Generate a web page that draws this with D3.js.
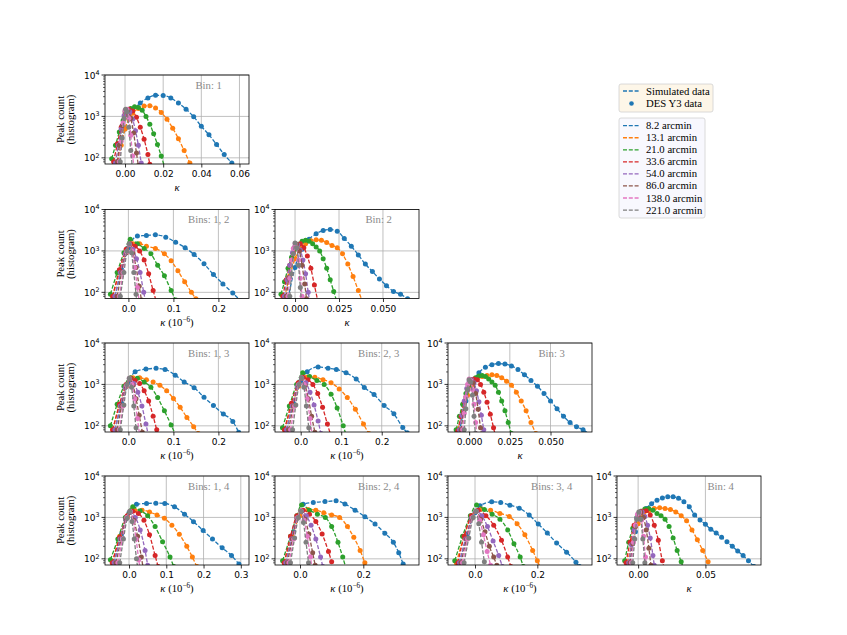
<!DOCTYPE html>
<html>
<head>
<meta charset="utf-8">
<script src="https://cdn.jsdelivr.net/npm/d3@7"></script>
<style>
  body { margin: 0; background: #fff; }
</style>
</head>
<body>
<div id="chart"></div>
<script>
// smoothing scales (legend) and their colours
const scales = ["8.2", "13.1", "21.0", "33.6", "54.0", "86.0", "138.0", "221.0"];
const colors = ["#1f77b4", "#ff7f0e", "#2ca02c", "#d62728", "#9467bd", "#8c564b", "#e377c2", "#7f7f7f"];
const yTicks = [100, 1000, 10000];
const yExp = ["2", "3", "4"];
const yMinor = [80, 90, 200, 300, 400, 500, 600, 700, 800, 900, 2000, 3000, 4000, 5000, 6000, 7000, 8000, 9000];

// peak counts per panel: one list of [kappa, count] per smoothing scale
const bin1 = [
  [[-0.004,80],[0,500],[0.004,1300],[0.008,2100],[0.012,2800],[0.016,3250],[0.020,3200],[0.024,2800],[0.028,2100],[0.032,1500],[0.036,980],[0.040,580],[0.044,360],[0.048,210],[0.052,120],[0.056,75],[0.060,45]],
  [[-0.004,80],[-0.002,200],[0,500],[0.002,850],[0.004,1200],[0.007,1550],[0.010,1780],[0.013,1800],[0.016,1600],[0.019,1250],[0.022,850],[0.025,520],[0.028,290],[0.031,150],[0.034,75],[0.036,50]],
  [[-0.007,95],[-0.005,200],[-0.003,420],[-0.001,800],[0.001,1250],[0.003,1550],[0.005,1700],[0.007,1650],[0.009,1400],[0.011,1000],[0.013,650],[0.015,380],[0.017,210],[0.019,110],[0.021,55]],
  [[-0.006,80],[-0.004,220],[-0.002,550],[0,1100],[0.002,1500],[0.004,1350],[0.006,950],[0.008,550],[0.010,280],[0.012,120],[0.013,70]],
  [[-0.005,75],[-0.0035,200],[-0.002,500],[-0.0005,1050],[0.001,1450],[0.0025,1300],[0.004,850],[0.0055,450],[0.007,200],[0.0085,75]],
  [[-0.004,80],[-0.003,200],[-0.0015,600],[0,1300],[0.0015,1400],[0.003,900],[0.0045,400],[0.006,130],[0.007,65]],
  [[-0.003,80],[-0.002,250],[-0.001,700],[0,1400],[0.001,1500],[0.002,900],[0.003,350],[0.004,110],[0.0047,60]],
  [[-0.0025,80],[-0.0015,300],[-0.0005,900],[0.0003,1500],[0.001,1300],[0.002,550],[0.003,150],[0.0038,60]]
];
const bins12 = [
  [[-0.03,80],[-0.015,350],[0,1200],[0.02,2300],[0.04,2350],[0.06,2450],[0.083,2150],[0.105,1620],[0.126,1200],[0.146,820],[0.168,490],[0.189,270],[0.21,160],[0.232,96],[0.25,62]],
  [[-0.035,80],[-0.02,300],[-0.005,900],[0.01,1500],[0.025,1500],[0.04,1300],[0.06,1150],[0.08,850],[0.095,580],[0.11,330],[0.125,180],[0.14,100],[0.15,70]],
  [[-0.04,90],[-0.025,300],[-0.01,900],[0.004,1900],[0.02,1500],[0.035,1150],[0.05,850],[0.065,450],[0.08,250],[0.095,110],[0.105,65]],
  [[-0.035,80],[-0.02,350],[-0.005,1100],[0.005,1500],[0.015,1300],[0.025,1000],[0.035,600],[0.045,280],[0.055,110],[0.062,60]],
  [[-0.03,80],[-0.018,300],[-0.007,850],[0.002,1400],[0.01,1100],[0.018,650],[0.026,300],[0.034,100],[0.039,55]],
  [[-0.025,80],[-0.015,300],[-0.005,900],[0.003,1400],[0.01,900],[0.017,400],[0.024,140],[0.029,65]],
  [[-0.02,80],[-0.012,300],[-0.004,950],[0.002,1450],[0.008,1000],[0.014,400],[0.02,130],[0.024,60]],
  [[-0.018,80],[-0.01,300],[-0.003,1000],[0.002,1500],[0.007,900],[0.012,300],[0.017,90],[0.019,55]]
];
const bin2 = [
  [[-0.004,70],[0,400],[0.004,1100],[0.008,1900],[0.012,2600],[0.016,3100],[0.020,3300],[0.024,3000],[0.028,2000],[0.032,1300],[0.036,800],[0.040,480],[0.044,320],[0.048,210],[0.052,145],[0.056,105],[0.060,90],[0.064,70]],
  [[-0.006,75],[-0.003,250],[0,650],[0.003,1150],[0.006,1500],[0.009,1750],[0.012,1850],[0.015,1800],[0.018,1600],[0.021,1350],[0.024,1200],[0.027,850],[0.030,480],[0.033,240],[0.036,110],[0.039,50]],
  [[-0.008,90],[-0.006,180],[-0.004,380],[-0.002,700],[0,1100],[0.002,1450],[0.004,1700],[0.006,1800],[0.008,1700],[0.010,1500],[0.012,1250],[0.014,1000],[0.016,650],[0.018,380],[0.020,200],[0.022,105],[0.024,55]],
  [[-0.007,80],[-0.005,200],[-0.003,450],[-0.001,900],[0.001,1350],[0.003,1500],[0.005,1200],[0.007,750],[0.009,380],[0.011,150],[0.013,60]],
  [[-0.006,80],[-0.0045,200],[-0.003,450],[-0.0015,900],[0,1300],[0.0015,1400],[0.003,1050],[0.0045,600],[0.006,280],[0.0075,100],[0.0085,55]],
  [[-0.005,80],[-0.0035,220],[-0.002,600],[-0.0005,1200],[0.001,1450],[0.0025,1000],[0.004,450],[0.0055,160],[0.0065,70]],
  [[-0.004,80],[-0.003,220],[-0.002,600],[-0.001,1150],[0,1500],[0.001,1200],[0.002,600],[0.003,220],[0.004,80]],
  [[-0.003,80],[-0.002,280],[-0.001,850],[0,1550],[0.001,1200],[0.002,450],[0.003,130],[0.0036,60]]
];
const bins13 = [
  [[-0.03,80],[-0.015,350],[0,1100],[0.015,2030],[0.039,2350],[0.0615,2440],[0.0815,2300],[0.104,1675],[0.124,1150],[0.146,835],[0.168,490],[0.189,308],[0.211,193],[0.232,128],[0.245,70]],
  [[-0.035,80],[-0.02,300],[-0.005,900],[0.01,1450],[0.025,1450],[0.04,1300],[0.055,1150],[0.07,950],[0.085,700],[0.1,460],[0.115,280],[0.13,160],[0.145,95],[0.155,65]],
  [[-0.04,100],[-0.025,330],[-0.01,900],[0.005,1450],[0.02,1400],[0.035,1150],[0.05,850],[0.065,480],[0.08,230],[0.095,105],[0.105,60]],
  [[-0.035,80],[-0.02,330],[-0.005,1000],[0.005,1400],[0.015,1250],[0.025,1050],[0.035,700],[0.045,400],[0.055,170],[0.063,80]],
  [[-0.03,80],[-0.018,300],[-0.007,850],[0.003,1300],[0.012,1050],[0.021,650],[0.03,300],[0.039,110],[0.045,55]],
  [[-0.025,80],[-0.015,300],[-0.005,900],[0.003,1350],[0.01,950],[0.017,450],[0.024,180],[0.031,70]],
  [[-0.02,80],[-0.012,300],[-0.004,950],[0.002,1400],[0.008,1000],[0.014,450],[0.02,150],[0.025,60]],
  [[-0.018,80],[-0.01,320],[-0.003,1000],[0.002,1400],[0.007,850],[0.012,300],[0.017,90],[0.02,55]]
];
const bins23 = [
  [[-0.035,80],[-0.018,350],[0,1200],[0.016,2030],[0.043,2650],[0.0675,2450],[0.088,2300],[0.112,1900],[0.137,1350],[0.157,840],[0.181,570],[0.206,310],[0.23,195],[0.252,91],[0.263,68]],
  [[-0.04,80],[-0.022,300],[-0.005,900],[0.015,1500],[0.035,1500],[0.055,1300],[0.075,1100],[0.095,780],[0.115,480],[0.135,250],[0.155,110],[0.168,65]],
  [[-0.045,90],[-0.028,300],[-0.01,1000],[0.005,1900],[0.022,1550],[0.04,1250],[0.058,1000],[0.075,580],[0.09,270],[0.105,100],[0.112,60]],
  [[-0.04,80],[-0.023,350],[-0.006,1100],[0.006,1500],[0.018,1300],[0.03,1000],[0.042,600],[0.054,280],[0.066,110],[0.074,60]],
  [[-0.035,80],[-0.021,300],[-0.008,900],[0.003,1400],[0.013,1100],[0.023,650],[0.033,320],[0.043,130],[0.05,65]],
  [[-0.03,80],[-0.018,300],[-0.006,950],[0.003,1400],[0.011,950],[0.019,450],[0.027,170],[0.035,70]],
  [[-0.025,80],[-0.015,300],[-0.005,1000],[0.002,1450],[0.009,1000],[0.016,450],[0.023,150],[0.028,60]],
  [[-0.02,80],[-0.012,320],[-0.004,1000],[0.002,1450],[0.008,850],[0.014,300],[0.02,90],[0.023,55]]
];
const bin3 = [
  [[-0.006,70],[-0.002,400],[0.002,1100],[0.006,1900],[0.010,2600],[0.014,3000],[0.018,3200],[0.022,3100],[0.026,2800],[0.030,2300],[0.034,1700],[0.038,1250],[0.042,900],[0.046,600],[0.050,400],[0.054,260],[0.058,170],[0.062,120],[0.066,95],[0.070,80],[0.074,62]],
  [[-0.007,80],[-0.004,220],[-0.001,550],[0.002,1000],[0.005,1350],[0.008,1550],[0.011,1650],[0.014,1700],[0.017,1650],[0.020,1450],[0.023,1200],[0.026,950],[0.029,650],[0.032,400],[0.035,230],[0.038,120],[0.041,65]],
  [[-0.008,80],[-0.006,170],[-0.004,330],[-0.002,600],[0,950],[0.002,1250],[0.004,1450],[0.006,1600],[0.008,1650],[0.010,1550],[0.012,1350],[0.014,1150],[0.016,950],[0.018,650],[0.020,400],[0.022,230],[0.024,120],[0.026,65]],
  [[-0.007,75],[-0.005,170],[-0.003,380],[-0.001,750],[0.001,1100],[0.003,1350],[0.005,1300],[0.007,1000],[0.009,650],[0.011,370],[0.013,190],[0.015,90],[0.016,60]],
  [[-0.006,80],[-0.0045,180],[-0.003,400],[-0.0015,800],[0,1200],[0.0015,1300],[0.003,1100],[0.0045,700],[0.006,380],[0.0075,180],[0.009,80]],
  [[-0.005,80],[-0.0035,200],[-0.002,500],[-0.0005,1000],[0.001,1300],[0.0025,1100],[0.004,600],[0.0055,250],[0.007,90],[0.0078,55]],
  [[-0.004,80],[-0.003,200],[-0.002,500],[-0.001,1000],[0,1350],[0.001,1250],[0.002,750],[0.003,330],[0.004,120],[0.0048,60]],
  [[-0.003,80],[-0.002,260],[-0.001,750],[0,1300],[0.001,1150],[0.002,550],[0.003,170],[0.0038,65]]
];
const bins14 = [
  [[-0.04,80],[-0.02,400],[0,1300],[0.02,2090],[0.047,2170],[0.072,2210],[0.096,2170],[0.122,1800],[0.149,1200],[0.173,790],[0.199,480],[0.224,300],[0.25,184],[0.275,120],[0.295,75]],
  [[-0.045,80],[-0.025,350],[-0.005,1000],[0.015,1500],[0.035,1500],[0.055,1350],[0.075,1150],[0.095,950],[0.115,650],[0.135,390],[0.155,200],[0.17,110],[0.182,65]],
  [[-0.05,95],[-0.03,300],[-0.01,1000],[0.01,1800],[0.03,1450],[0.05,1100],[0.07,600],[0.09,260],[0.11,110],[0.12,65]],
  [[-0.045,80],[-0.025,330],[-0.005,1100],[0.01,1400],[0.025,1250],[0.04,850],[0.055,380],[0.07,120],[0.078,65]],
  [[-0.04,80],[-0.024,300],[-0.009,900],[0.004,1350],[0.017,1000],[0.03,500],[0.043,160],[0.05,70]],
  [[-0.035,80],[-0.021,300],[-0.008,950],[0.003,1350],[0.013,850],[0.023,350],[0.033,110],[0.038,60]],
  [[-0.03,80],[-0.018,300],[-0.006,1000],[0.003,1400],[0.011,800],[0.019,300],[0.026,95],[0.03,55]],
  [[-0.025,80],[-0.015,300],[-0.005,950],[0.002,1400],[0.008,800],[0.014,300],[0.02,100],[0.024,55]]
];
const bins24 = [
  [[-0.045,80],[-0.02,450],[0.01,2090],[0.042,2290],[0.079,2410],[0.114,2510],[0.142,2100],[0.174,1500],[0.205,1040],[0.237,690],[0.268,415],[0.295,250],[0.312,140],[0.326,75]],
  [[-0.05,80],[-0.025,350],[0,1100],[0.025,1550],[0.05,1500],[0.075,1300],[0.1,1150],[0.125,1000],[0.15,600],[0.17,330],[0.19,160],[0.205,80]],
  [[-0.055,90],[-0.03,350],[-0.01,1100],[0.005,2000],[0.03,1500],[0.055,1200],[0.08,1000],[0.1,600],[0.12,250],[0.135,110],[0.145,60]],
  [[-0.05,80],[-0.03,350],[-0.01,1100],[0.01,1500],[0.03,1200],[0.05,800],[0.07,400],[0.09,150],[0.1,85]],
  [[-0.045,80],[-0.027,300],[-0.01,950],[0.005,1400],[0.02,1100],[0.035,650],[0.05,300],[0.065,110],[0.072,65]],
  [[-0.04,80],[-0.024,300],[-0.009,950],[0.004,1400],[0.016,900],[0.028,400],[0.04,140],[0.048,70]],
  [[-0.035,80],[-0.02,300],[-0.007,1000],[0.003,1450],[0.013,850],[0.023,350],[0.033,110],[0.038,60]],
  [[-0.03,80],[-0.017,320],[-0.005,1000],[0.003,1400],[0.011,750],[0.019,250],[0.027,80]]
];
const bins34 = [
  [[-0.05,80],[-0.025,400],[0,1300],[0.016,1900],[0.0535,2380],[0.0824,2290],[0.112,1980],[0.142,1675],[0.174,1140],[0.203,690],[0.232,420],[0.262,240],[0.294,145],[0.324,83],[0.335,65]],
  [[-0.06,80],[-0.035,350],[-0.01,1100],[0.02,1600],[0.05,1500],[0.08,1250],[0.11,1050],[0.135,700],[0.16,380],[0.185,160],[0.2,90],[0.21,60]],
  [[-0.065,90],[-0.04,350],[-0.015,1100],[0.005,2000],[0.03,1550],[0.055,1200],[0.08,900],[0.105,500],[0.125,230],[0.145,110],[0.155,65]],
  [[-0.055,80],[-0.035,350],[-0.012,1100],[0.01,1500],[0.035,1100],[0.06,650],[0.085,280],[0.105,110],[0.115,65]],
  [[-0.05,80],[-0.03,300],[-0.012,950],[0.005,1400],[0.022,1100],[0.04,600],[0.058,270],[0.076,120],[0.088,65]],
  [[-0.045,80],[-0.027,300],[-0.01,950],[0.004,1400],[0.018,900],[0.032,450],[0.046,200],[0.06,110],[0.07,70]],
  [[-0.04,80],[-0.024,300],[-0.008,1000],[0.003,1400],[0.015,850],[0.027,380],[0.039,150],[0.05,70]],
  [[-0.035,80],[-0.02,320],[-0.006,1000],[0.003,1400],[0.012,700],[0.021,250],[0.03,85]]
];
const bin4 = [
  [[-0.006,80],[-0.002,450],[0.002,1050],[0.006,1650],[0.010,2150],[0.014,2600],[0.018,2950],[0.022,3150],[0.026,3150],[0.030,2900],[0.034,2400],[0.038,1800],[0.042,1150],[0.046,870],[0.050,680],[0.054,520],[0.058,420],[0.062,330],[0.066,260],[0.070,200],[0.074,155],[0.078,120],[0.082,90],[0.086,65]],
  [[-0.008,80],[-0.004,280],[0,700],[0.004,1150],[0.008,1450],[0.012,1650],[0.016,1700],[0.020,1650],[0.024,1550],[0.028,1350],[0.032,1100],[0.036,830],[0.040,500],[0.044,290],[0.048,160],[0.052,85]],
  [[-0.010,90],[-0.007,250],[-0.004,550],[-0.001,1000],[0.002,1400],[0.005,1600],[0.008,1650],[0.011,1500],[0.014,1250],[0.017,1100],[0.020,900],[0.023,600],[0.026,320],[0.029,160],[0.032,85],[0.034,55]],
  [[-0.009,80],[-0.006,250],[-0.003,650],[0,1100],[0.003,1400],[0.006,1450],[0.009,1150],[0.012,650],[0.015,280],[0.018,90],[0.020,50]],
  [[-0.007,80],[-0.005,220],[-0.003,500],[-0.001,950],[0.001,1300],[0.003,1350],[0.005,1050],[0.007,650],[0.009,320],[0.011,120],[0.012,70]],
  [[-0.006,80],[-0.004,230],[-0.002,600],[0,1150],[0.002,1350],[0.004,1000],[0.006,500],[0.008,180],[0.0095,70]],
  [[-0.005,80],[-0.0035,250],[-0.002,650],[-0.0005,1200],[0.001,1350],[0.0025,850],[0.004,350],[0.0055,110],[0.0065,55]],
  [[-0.004,80],[-0.0025,300],[-0.001,900],[0.0005,1350],[0.002,900],[0.0035,300],[0.005,80]]
];

// panel layout: grid position, kappa limits and ticks
const panels = [
  { label: "Bin: 1",     row: 0, col: 0, data: bin1,   xdom: [-0.0105, 0.065],  ticks: [0, 0.02, 0.04, 0.06], fmt: ".2f", cross: false },
  { label: "Bins: 1, 2", row: 1, col: 0, data: bins12, xdom: [-0.052, 0.268],   ticks: [0, 0.1, 0.2],         fmt: ".1f", cross: true },
  { label: "Bin: 2",     row: 1, col: 1, data: bin2,   xdom: [-0.0114, 0.0705], ticks: [0, 0.025, 0.05],      fmt: ".3f", cross: false },
  { label: "Bins: 1, 3", row: 2, col: 0, data: bins13, xdom: [-0.052, 0.268],   ticks: [0, 0.1, 0.2],         fmt: ".1f", cross: true },
  { label: "Bins: 2, 3", row: 2, col: 1, data: bins23, xdom: [-0.0634, 0.292],  ticks: [0, 0.1, 0.2],         fmt: ".1f", cross: true },
  { label: "Bin: 3",     row: 2, col: 2, data: bin3,   xdom: [-0.013, 0.0755],  ticks: [0, 0.025, 0.05],      fmt: ".3f", cross: false },
  { label: "Bins: 1, 4", row: 3, col: 0, data: bins14, xdom: [-0.0645, 0.322],  ticks: [0, 0.1, 0.2, 0.3],    fmt: ".1f", cross: true },
  { label: "Bins: 2, 4", row: 3, col: 1, data: bins24, xdom: [-0.079, 0.376],   ticks: [0, 0.2],              fmt: ".1f", cross: true },
  { label: "Bins: 3, 4", row: 3, col: 2, data: bins34, xdom: [-0.0867, 0.3755], ticks: [0, 0.2],              fmt: ".1f", cross: true },
  { label: "Bin: 4",     row: 3, col: 3, data: bin4,   xdom: [-0.0157, 0.0913], ticks: [0, 0.05],             fmt: ".2f", cross: false }
];

const W = 847, H = 635;
const colLeft = [105, 275, 448, 617];
const rowTop = [75, 209.5, 343, 476];
const pw = 144, ph = 89;
const serif = "'Liberation Serif', 'DejaVu Serif', serif";
const sans = "'DejaVu Sans', sans-serif";
const fsSerif = 10.7, fsTick = 9;

const svg = d3.select("#chart").append("svg")
  .attr("width", W)
  .attr("height", H)
  .style("background", "#fff");

const y = d3.scaleLog().domain([71, 1e4]).range([ph, 0]);

panels.forEach((p, i) => {
  const g = svg.append("g")
    .attr("transform", `translate(${colLeft[p.col]},${rowTop[p.row]})`);
  const x = d3.scaleLinear().domain(p.xdom).range([0, pw]);

  // grid
  g.selectAll(".gx").data(p.ticks).join("line")
    .attr("x1", d => x(d)).attr("x2", d => x(d))
    .attr("y1", 0).attr("y2", ph)
    .attr("stroke", "#b0b0b0").attr("stroke-width", 0.8);
  g.selectAll(".gy").data(yTicks).join("line")
    .attr("x1", 0).attr("x2", pw)
    .attr("y1", d => y(d)).attr("y2", d => y(d))
    .attr("stroke", "#b0b0b0").attr("stroke-width", 0.8);

  g.append("clipPath").attr("id", "clip" + i)
    .append("rect").attr("width", pw).attr("height", ph);

  const plot = g.append("g").attr("clip-path", `url(#clip${i})`);
  const line = d3.line()
    .x(d => x(d[0]))
    .y(d => y(d[1]))
    .curve(d3.curveMonotoneX);

  p.data.forEach((s, j) => {
    plot.append("path")
      .datum(s)
      .attr("d", line)
      .attr("fill", "none")
      .attr("stroke", colors[j])
      .attr("stroke-width", 1.3)
      .attr("stroke-dasharray", "4,1.8");
    plot.selectAll(".pt" + j).data(s).join("circle")
      .attr("cx", d => x(d[0]))
      .attr("cy", d => y(d[1]))
      .attr("r", 2.5)
      .attr("fill", colors[j]);
  });

  // panel label
  g.append("text")
    .attr("x", pw * 0.72).attr("y", 13.5)
    .attr("text-anchor", "middle")
    .attr("font-family", serif).attr("font-size", fsSerif)
    .attr("fill", "#8a8a8a")
    .text(p.label);

  // frame
  g.append("rect")
    .attr("width", pw).attr("height", ph)
    .attr("fill", "none").attr("stroke", "#000").attr("stroke-width", 0.8);

  // x axis
  const xa = g.append("g")
    .attr("transform", `translate(0,${ph})`)
    .call(d3.axisBottom(x).tickValues(p.ticks).tickFormat(d3.format(p.fmt)).tickSize(3.5).tickPadding(3.5));
  xa.select(".domain").remove();
  xa.selectAll("text").attr("font-family", sans).attr("font-size", fsTick).attr("fill", "#000");
  xa.selectAll("line").attr("stroke-width", 0.8);

  // y axis (log, 10^n labels, minor ticks)
  const ya = g.append("g");
  ya.selectAll(".ym").data(yMinor).join("line")
    .attr("x1", -2).attr("x2", 0)
    .attr("y1", d => y(d)).attr("y2", d => y(d))
    .attr("stroke", "#000").attr("stroke-width", 0.6);
  ya.selectAll(".yM").data(yTicks).join("line")
    .attr("x1", -3.5).attr("x2", 0)
    .attr("y1", d => y(d)).attr("y2", d => y(d))
    .attr("stroke", "#000").attr("stroke-width", 0.8);
  const yl = ya.selectAll("text").data(yTicks).join("text")
    .attr("x", -5.5).attr("y", d => y(d) + 3.5)
    .attr("text-anchor", "end")
    .attr("font-family", sans).attr("font-size", fsTick);
  yl.append("tspan").text("10");
  yl.append("tspan").attr("dy", -3.8).attr("font-size", 6.4).text((d, k) => yExp[k]);

  // x label
  const xl = g.append("text")
    .attr("x", pw / 2).attr("y", ph + 27)
    .attr("text-anchor", "middle")
    .attr("font-family", serif).attr("font-size", fsSerif);
  xl.append("tspan").attr("font-style", "italic").text("κ");
  if (p.cross) {
    xl.append("tspan").text(" (10");
    xl.append("tspan").attr("dy", -3.8).attr("font-size", 7.2).text("−6");
    xl.append("tspan").attr("dy", 3.8).text(")");
  }

  // y label only in first column
  if (p.col === 0) {
    const t = g.append("text")
      .attr("transform", `translate(-41,${ph / 2}) rotate(-90)`)
      .attr("text-anchor", "middle")
      .attr("font-family", serif).attr("font-size", fsSerif);
    t.append("tspan").attr("x", 0).attr("dy", 0).text("Peak count");
    t.append("tspan").attr("x", 0).attr("dy", 10).text("(histogram)");
  }
});

// legends
const lg1 = svg.append("g").attr("transform", "translate(619,84)");
lg1.append("rect").attr("width", 94).attr("height", 28).attr("rx", 2)
  .attr("fill", "#fdf6e8").attr("stroke", "#d0d0d0").attr("stroke-width", 0.8);
lg1.append("line").attr("x1", 4).attr("x2", 21).attr("y1", 7).attr("y2", 7)
  .attr("stroke", colors[0]).attr("stroke-width", 1.3).attr("stroke-dasharray", "4,1.8");
lg1.append("circle").attr("cx", 12.5).attr("cy", 19.5).attr("r", 2.3).attr("fill", colors[0]);
lg1.selectAll("text").data(["Simulated data", "DES Y3 data"]).join("text")
  .attr("x", 27).attr("y", (d, k) => 10.5 + k * 12.3)
  .attr("font-family", serif).attr("font-size", fsSerif)
  .text(d => d);

const lg2 = svg.append("g").attr("transform", "translate(619,118)");
lg2.append("rect").attr("width", 86).attr("height", 100).attr("rx", 2)
  .attr("fill", "#f8f8fe").attr("stroke", "#d0d0d0").attr("stroke-width", 0.8);
const rows = lg2.selectAll(".row").data(scales).join("g")
  .attr("transform", (d, k) => `translate(0,${7.7 + k * 12.05})`);
rows.append("line").attr("x1", 4).attr("x2", 21)
  .attr("stroke", (d, k) => colors[k]).attr("stroke-width", 1.3).attr("stroke-dasharray", "4,1.8");
rows.append("text").attr("x", 27).attr("y", 3.5)
  .attr("font-family", serif).attr("font-size", fsSerif)
  .text(d => d + " arcmin");
</script>
</body>
</html>
